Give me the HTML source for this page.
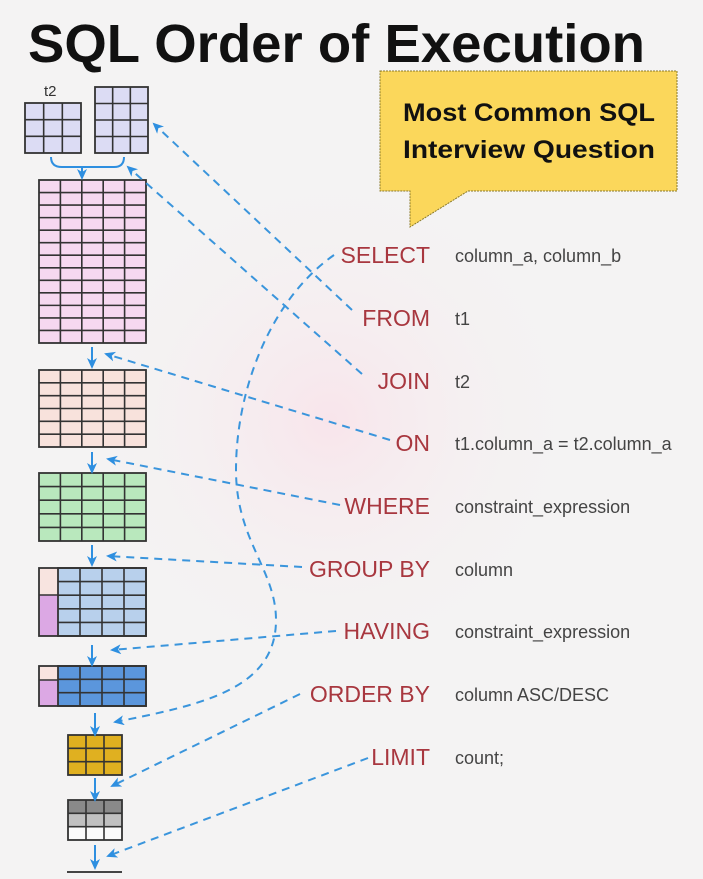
<!DOCTYPE html>
<html><head><meta charset="utf-8"><style>
html,body{margin:0;padding:0;width:703px;height:879px;overflow:hidden;background:#f4f3f3}
svg{display:block}
</style></head><body>
<svg id="s" width="703" height="879" viewBox="0 0 703 879" xmlns="http://www.w3.org/2000/svg">
<defs>
<radialGradient id="pg" cx="0.5" cy="0.5" r="0.5">
<stop offset="0" stop-color="#f9e3ea" stop-opacity="0.9"/>
<stop offset="1" stop-color="#f4f3f3" stop-opacity="0"/>
</radialGradient>
<marker id="ah" markerWidth="12" markerHeight="12" refX="9" refY="5" orient="auto" markerUnits="userSpaceOnUse">
<path d="M0,0 L11,5 L0,10 L3,5 Z" fill="#2e8fe0"/>
</marker>
</defs>
<ellipse cx="330" cy="420" rx="260" ry="260" fill="url(#pg)"/>
<text x="28" y="62" font-family="Liberation Sans, sans-serif" font-weight="bold" font-size="54" fill="#111" textLength="617" lengthAdjust="spacingAndGlyphs">SQL Order of Execution</text>
<path d="M380,71 H677 V191 H468 L410,227 V191 H380 Z" fill="#fbd75b" stroke="#8a7a2a" stroke-width="1" stroke-dasharray="2,1"/>
<text x="529" y="121" text-anchor="middle" font-family="Liberation Sans, sans-serif" font-weight="bold" font-size="25" fill="#111" textLength="252" lengthAdjust="spacingAndGlyphs">Most Common SQL</text>
<text x="529" y="158" text-anchor="middle" font-family="Liberation Sans, sans-serif" font-weight="bold" font-size="25" fill="#111" textLength="252" lengthAdjust="spacingAndGlyphs">Interview Question</text>
<text x="44" y="96" font-family="Liberation Sans, sans-serif" font-size="15" fill="#333">t2</text>
<g id="tables"></g>
<g fill="none" stroke="#2e8fe0" stroke-width="2">
<path d="M51,157 Q51,167 62,167 H114 Q124,167 124,157"/>
<path d="M82,167 V178" marker-end="url(#ah)"/>
<path d="M92,347 V367" marker-end="url(#ah)"/>
<path d="M92,452 V472" marker-end="url(#ah)"/>
<path d="M92,545 V565" marker-end="url(#ah)"/>
<path d="M92,645 V665" marker-end="url(#ah)"/>
<path d="M95,713 V735" marker-end="url(#ah)"/>
<path d="M95,778 V800" marker-end="url(#ah)"/>
<path d="M95,845 V868" marker-end="url(#ah)"/>
</g>
<g fill="none" stroke="#3a95dc" stroke-width="2" stroke-dasharray="8,6">
<path d="M352,310 L154,124" marker-end="url(#ah)"/>
<path d="M362,374 L128,167" marker-end="url(#ah)"/>
<path d="M390,440 L106,354" marker-end="url(#ah)"/>
<path d="M340,505 L108,459" marker-end="url(#ah)"/>
<path d="M302,567 L108,556" marker-end="url(#ah)"/>
<path d="M336,631 L112,650" marker-end="url(#ah)"/>
<path d="M300,694 L112,786" marker-end="url(#ah)"/>
<path d="M368,758 L108,856" marker-end="url(#ah)"/>
<path d="M334,255 C270,300 236,390 236,470 C236,540 276,570 276,620 C276,690 200,705 115,722" marker-end="url(#ah)"/>
</g>
<g font-family="Liberation Sans, sans-serif" font-size="23" fill="#a8373f" text-anchor="end">
<text x="430" y="263">SELECT</text>
<text x="430" y="326">FROM</text>
<text x="430" y="389">JOIN</text>
<text x="430" y="451">ON</text>
<text x="430" y="514">WHERE</text>
<text x="430" y="577">GROUP BY</text>
<text x="430" y="639">HAVING</text>
<text x="430" y="702">ORDER BY</text>
<text x="430" y="765">LIMIT</text>
</g>
<g font-family="Liberation Sans, sans-serif" font-size="18" fill="#444">
<text x="455" y="262">column_a, column_b</text>
<text x="455" y="325">t1</text>
<text x="455" y="388">t2</text>
<text x="455" y="450">t1.column_a = t2.column_a</text>
<text x="455" y="513">constraint_expression</text>
<text x="455" y="576">column</text>
<text x="455" y="638">constraint_expression</text>
<text x="455" y="701">column ASC/DESC</text>
<text x="455" y="764">count;</text>
</g>
<line x1="67" y1="872" x2="122" y2="872" stroke="#444" stroke-width="2"/>
</svg>
<script>
var g=document.getElementById('tables'),NS='http://www.w3.org/2000/svg';
function el(t,a){var e=document.createElementNS(NS,t);for(var k in a)e.setAttribute(k,a[k]);g.appendChild(e);return e;}
function grid(x,y,w,h,cols,rows,fill){
 el('rect',{x:x,y:y,width:w,height:h,fill:fill});
 for(var i=1;i<cols;i++){var xx=x+w*i/cols;el('line',{x1:xx,y1:y,x2:xx,y2:y+h,stroke:'#333','stroke-width':1.6});}
 for(var j=1;j<rows;j++){var yy=y+h*j/rows;el('line',{x1:x,y1:yy,x2:x+w,y2:yy,stroke:'#333','stroke-width':1.6});}
 el('rect',{x:x,y:y,width:w,height:h,fill:'none',stroke:'#333','stroke-width':1.8});
}
grid(25,103,56,50,3,3,'#dcdcf4');
grid(95,87,53,66,3,4,'#dcdcf4');
grid(39,180,107,163,5,13,'#f6d8f0');
grid(39,370,107,77,5,6,'#f8e2dc');
grid(39,473,107,68,5,5,'#b9e8bd');
el('rect',{x:39,y:568,width:19,height:27,fill:'#f8e4e0'});
el('rect',{x:39,y:595,width:19,height:41,fill:'#dca8e4'});
grid(58,568,88,68,4,5,'#b8d0ec');
el('rect',{x:39,y:568,width:107,height:68,fill:'none',stroke:'#333','stroke-width':1.8});
el('line',{x1:39,y1:595,x2:58,y2:595,stroke:'#333','stroke-width':1.6});
el('rect',{x:39,y:666,width:19,height:14,fill:'#f8e4e0'});
el('rect',{x:39,y:680,width:19,height:26,fill:'#dca8e4'});
grid(58,666,88,40,4,3,'#5b96dc');
el('rect',{x:39,y:666,width:107,height:40,fill:'none',stroke:'#333','stroke-width':1.8});
el('line',{x1:39,y1:680,x2:58,y2:680,stroke:'#333','stroke-width':1.6});
grid(68,735,54,40,3,3,'#e0b020');
el('rect',{x:68,y:800,width:54,height:13,fill:'#8a8a8a'});
el('rect',{x:68,y:813,width:54,height:14,fill:'#c0c0c0'});
el('rect',{x:68,y:827,width:54,height:13,fill:'#fafafa'});
grid(68,800,54,40,3,3,'none');
</script>
</body></html>
